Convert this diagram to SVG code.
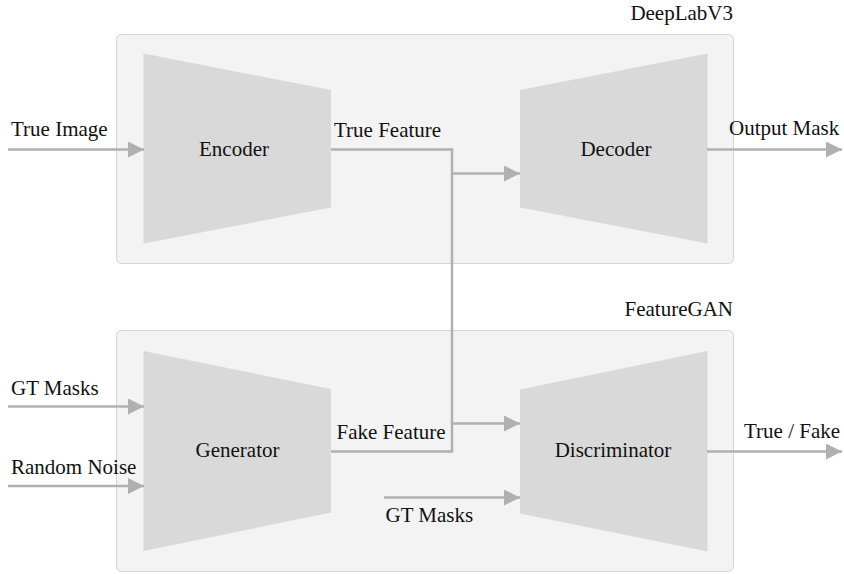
<svg xmlns="http://www.w3.org/2000/svg" width="844" height="574" viewBox="0 0 844 574">
  <defs>
    <marker id="head" viewBox="0 0 16 16" markerUnits="userSpaceOnUse" markerWidth="16" markerHeight="16" refX="16" refY="8" orient="auto">
      <path d="M0,0 L16,8 L0,16 Z" fill="#b0b0b0"/>
    </marker>
  </defs>

  <!-- containers -->
  <g fill="#f3f3f3" stroke="#d4d4d4" stroke-width="1">
    <rect id="deeplabv3-panel" x="116.5" y="34.5" width="617" height="229" rx="5"/>
    <rect id="featuregan-panel" x="116.5" y="330.5" width="617" height="241" rx="5"/>
  </g>

  <g font-family="Liberation Serif" font-size="21" fill="#111">
    <g id="deeplabv3">
      <text x="733" y="20" text-anchor="end">DeepLabV3</text>
    </g>
    <g id="featuregan">
      <text x="733" y="316" text-anchor="end">FeatureGAN</text>
    </g>

    <g id="encoder">
      <polygon fill="#d9d9d9" points="143.5,53.5 331,90 331,207.5 143.5,243.5"/>
      <text x="234" y="156" text-anchor="middle">Encoder</text>
    </g>

    <g id="decoder">
      <polygon fill="#d9d9d9" points="520,90 707.5,53.5 707.5,243.5 520,207.5"/>
      <text x="616" y="156" text-anchor="middle">Decoder</text>
    </g>

    <g id="generator">
      <polygon fill="#d9d9d9" points="143.5,351 331,389 331,512.5 143.5,551"/>
      <text x="237.5" y="457" text-anchor="middle">Generator</text>
    </g>

    <g id="discriminator">
      <polygon fill="#d9d9d9" points="520,389.5 707.5,351 707.5,551.5 520,513.5"/>
      <text x="613" y="457" text-anchor="middle">Discriminator</text>
    </g>
  </g>

  <!-- connectors -->
  <g id="connectors" fill="none" stroke="#b0b0b0" stroke-width="2.5">
    <!-- inputs to the encoder / generator -->
    <line x1="8" y1="149.5" x2="144" y2="149.5" marker-end="url(#head)"/>
    <line x1="8" y1="406.5" x2="144" y2="406.5" marker-end="url(#head)"/>
    <line x1="8" y1="486" x2="144" y2="486" marker-end="url(#head)"/>

    <!-- feature bus between encoder, generator, decoder and discriminator -->
    <polyline points="331,149.5 452,149.5 452,451.5 331,451.5"/>
    <line x1="452" y1="173.5" x2="520" y2="173.5" marker-end="url(#head)"/>
    <line x1="452" y1="423.5" x2="520" y2="423.5" marker-end="url(#head)"/>

    <!-- masks into the discriminator -->
    <line x1="384" y1="497.5" x2="520" y2="497.5" marker-end="url(#head)"/>

    <!-- outputs -->
    <line x1="707" y1="149.5" x2="842" y2="149.5" marker-end="url(#head)"/>
    <line x1="707" y1="451.5" x2="842" y2="451.5" marker-end="url(#head)"/>
  </g>

  <!-- connector labels -->
  <g id="labels" font-family="Liberation Serif" font-size="21" fill="#111">
    <text x="11" y="136">True Image</text>
    <text x="334" y="137">True Feature</text>
    <text x="729" y="135">Output Mask</text>
    <text x="11" y="395">GT Masks</text>
    <text x="11" y="474">Random Noise</text>
    <text x="336.5" y="439">Fake Feature</text>
    <text x="385.5" y="522">GT Masks</text>
    <text x="744" y="438">True / Fake</text>
  </g>
</svg>
